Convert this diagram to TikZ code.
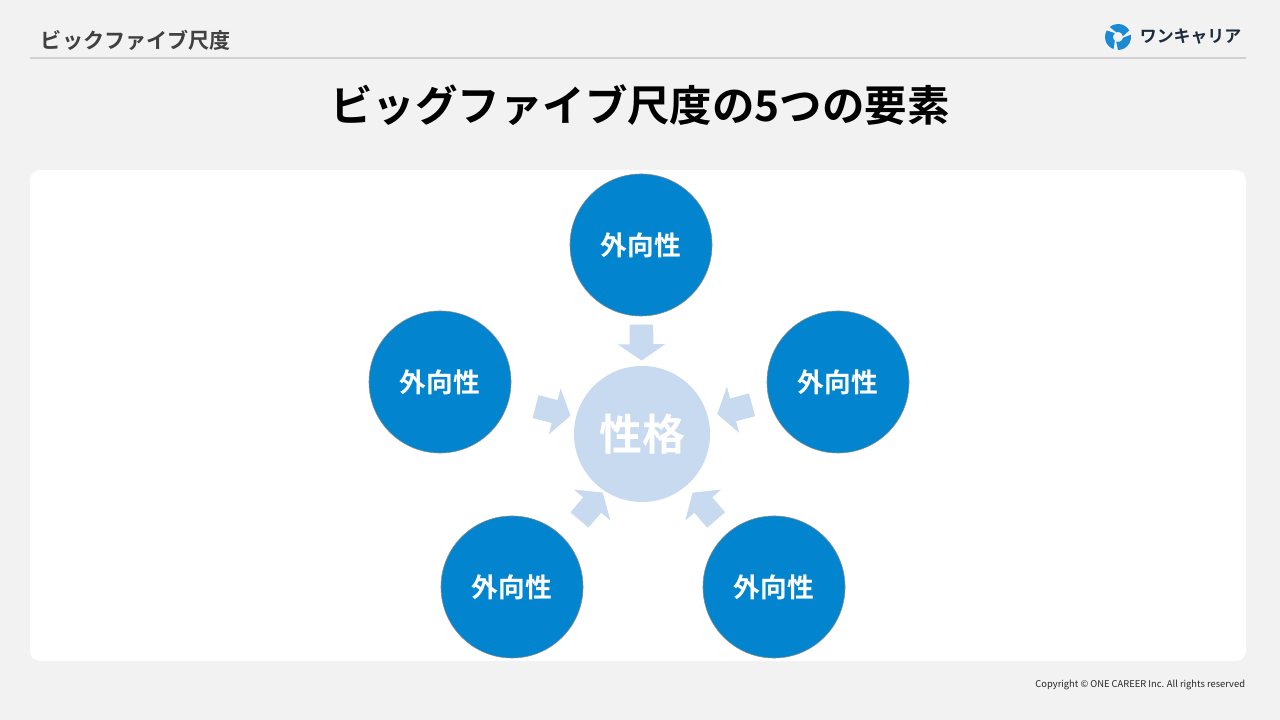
\documentclass[tikz,border=0pt]{standalone}
\usepackage{fontspec}
\setmainfont{Noto Sans CJK JP}[BoldFont={Noto Sans CJK JP Bold}]
\usetikzlibrary{shapes.arrows,positioning}
\definecolor{bggray}{HTML}{F2F2F2}
\definecolor{rulegray}{HTML}{D0D0D0}
\definecolor{headgray}{HTML}{404040}
\definecolor{ringblue}{HTML}{0384CE}
\definecolor{coreblue}{HTML}{C8DAF0}
\definecolor{logoblue}{HTML}{1A8AD4}
\definecolor{logonavy}{HTML}{1E2B3C}

\begin{document}
\begin{tikzpicture}[x=0.025cm,y=0.025cm]
  \tikzstyle{trait}=[circle,fill=ringblue,draw=black!45,line width=0.4pt,minimum size=3.55cm,
                     inner sep=0pt,text=white,font=\fontsize{19}{20}\selectfont\bfseries]
  \tikzstyle{core}=[circle,fill=coreblue,minimum size=3.4cm,inner sep=0pt,text=white,
                    font=\fontsize{30.5}{32}\selectfont\bfseries]
  \tikzstyle{inarrow}=[single arrow,fill=coreblue,draw=none,minimum height=0.9cm,
                       inner xsep=0pt,inner ysep=0.2875cm,outer sep=0pt,
                       single arrow head extend=0.3cm,single arrow tip angle=111,
                       sloped,allow upside down]

  \useasboundingbox[fill=bggray] (0,0) rectangle (1280,720);

  % header
  \node[anchor=west,text=headgray,font=\fontsize{15}{16}\selectfont\bfseries] (head) at (36,680) {ビックファイブ尺度};
  \draw[rulegray,line width=1.2pt] (30,662) -- (1246,662);

  % logo
  \begin{scope}[shift={(1118,683)}]
    \foreach \a in {30,150,270}
      \fill[logoblue] (\a:13) arc[start angle=\a,end angle=\a+100,radius=13]
                      -- (\a+80:5) arc[start angle=\a+80,end angle=\a-20,radius=5] -- cycle;
  \end{scope}
  \node[anchor=west,text=logonavy,font=\fontsize{12}{13}\selectfont\bfseries] (logo) at (1135,683) {ワンキャリア};

  % title
  \node[font=\fontsize{30.2}{32}\selectfont\bfseries] (title) at (640,615) {ビッグファイブ尺度の5つの要素};

  % panel
  \fill[white,rounded corners=0.25cm] (30,59) rectangle (1246,550);

  \node[core]  (core) at (642,286) {性格};
  \node[trait] (top)  at (641,475) {外向性};
  \node[trait] (rt)   at (838,338) {外向性};
  \node[trait] (lt)   at (440,338) {外向性};
  \node[trait] (bl)   at (512,133) {外向性};
  \node[trait] (br)   at (774,133) {外向性};

  \path (top) -- node[inarrow,pos=0.45]{} (core)
        (rt)  -- node[inarrow]{} (core)
        (lt)  -- node[inarrow,pos=0.6]{} (core)
        (bl)  -- node[inarrow,xshift=0.17cm,yshift=-0.2cm]{} (core)
        (br)  -- node[inarrow]{} (core);

  % footer
  \node[anchor=east,text=black!85,font=\fontsize{6.65}{7}\selectfont] (copy) at (1250,35)
       {Copyright © ONE CAREER Inc. All rights reserved};
\end{tikzpicture}
\end{document}
